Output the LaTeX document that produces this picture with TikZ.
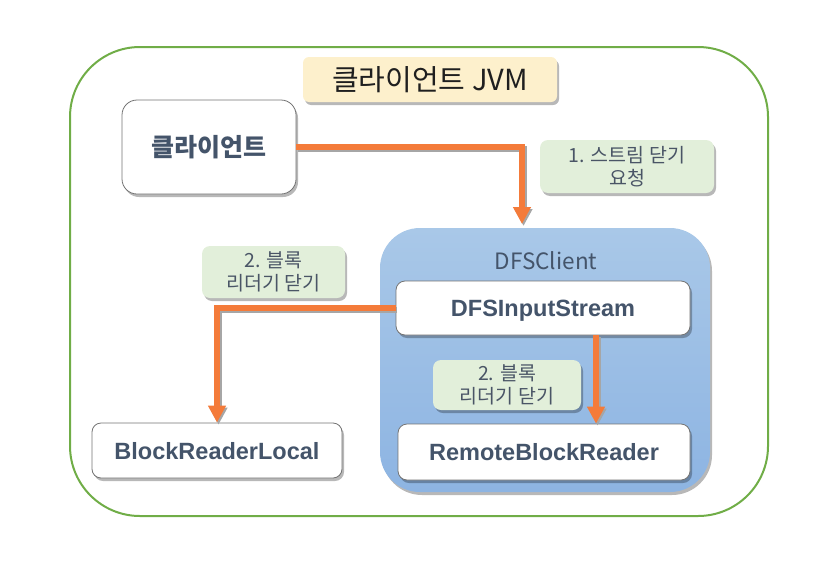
\documentclass[tikz,border=0pt]{standalone}
\usepackage{fontspec}
\setmainfont{Noto Sans CJK KR}
\newfontfamily\latinbold{Liberation Sans}
\usetikzlibrary{shadows,arrows.meta}
\definecolor{jvmgreen}{HTML}{70AD47}
\definecolor{titlefill}{HTML}{FDF0CC}
\definecolor{slate}{HTML}{44546A}
\definecolor{labelfill}{HTML}{E2EFDA}
\definecolor{labeltext}{HTML}{4A5566}
\definecolor{arroworange}{HTML}{F47B3A}
\definecolor{bluetop}{HTML}{A9C8E8}
\definecolor{bluebot}{HTML}{8DB4E2}
\tikzset{
  softshadow/.style={drop shadow={shadow xshift=2pt,shadow yshift=-3pt,fill=black,opacity=0.28}},
  whitebox/.style={draw=black!55, line width=0.8pt, fill=white, rounded corners=9pt, softshadow,
    text=slate, font=\latinbold\bfseries\fontsize{23.5}{26}\selectfont, inner sep=0pt,
    text height=18pt, text depth=1pt},
  notebox/.style={fill=labelfill, rounded corners=8pt, softshadow, text=labeltext,
    font=\fontsize{19.5}{22.5}\selectfont, align=center, inner sep=0pt},
  flow/.style={draw=arroworange, line width=6pt, -{Triangle[width=17pt,length=17pt]},
    preaction={draw=black!35, line width=6pt, transform canvas={shift={(1.5pt,-2pt)}}}},
}
\begin{document}
\begin{tikzpicture}[x=1pt,y=-1pt]
\path[use as bounding box] (0,0) rectangle (834,562);
% outer JVM frame
\node[draw=jvmgreen, line width=2pt, rounded corners=70pt, minimum width=698pt, minimum height=469pt] (jvm) at (419,281.5) {};
% title
\node[fill=titlefill, rounded corners=6pt, softshadow, minimum width=254pt, minimum height=45pt,
  font=\fontsize{29}{32}\selectfont, text=black!88, inner sep=0pt] (title) at (430,79.5) {클라이언트 JVM};
% client
\node[draw=black!55, line width=0.8pt, fill=white, rounded corners=15pt, softshadow, minimum width=174pt, minimum height=94pt,
  text=slate, font=\bfseries\fontsize{25}{28}\selectfont, inner sep=0pt] (client) at (209,147) {클라이언트};
% DFSClient container
\node[top color=bluetop, bottom color=bluebot, rounded corners=40pt, softshadow, minimum width=330pt, minimum height=264pt] (dfsclient) at (545,360) {};
\node[text=slate, font=\fontsize{22.5}{24}\selectfont, inner sep=0pt] (dfsclabel) at (546,261) {DFSClient};
% inner boxes
\node[whitebox, minimum width=294pt, minimum height=54pt] (dfsin) at (543,308) {DFSInputStream};
\node[whitebox, minimum width=292pt, minimum height=56pt] (rbr) at (544,452) {RemoteBlockReader};
\node[whitebox, minimum width=250pt, minimum height=55pt] (brl) at (217,450.5) {BlockReaderLocal};
% notes
\node[notebox, minimum width=174pt, minimum height=53pt] (note1) at (627,166.5) {1. 스트림 닫기\\요청};
\node[notebox, minimum width=143pt, minimum height=52pt] (note2a) at (273.5,272) {2. 블록\\리더기 닫기};
% arrows
\coordinate (t1) at (522,224);
\draw[flow] (client.east) -| (t1);
\draw[flow] (dfsin.west) -| (brl.north);
\coordinate (s3) at (596,335);
\draw[flow] (s3) -- (s3 |- rbr.north);
\node[notebox, minimum width=148pt, minimum height=50pt] (note2b) at (507,385) {2. 블록\\리더기 닫기};
\end{tikzpicture}
\end{document}
